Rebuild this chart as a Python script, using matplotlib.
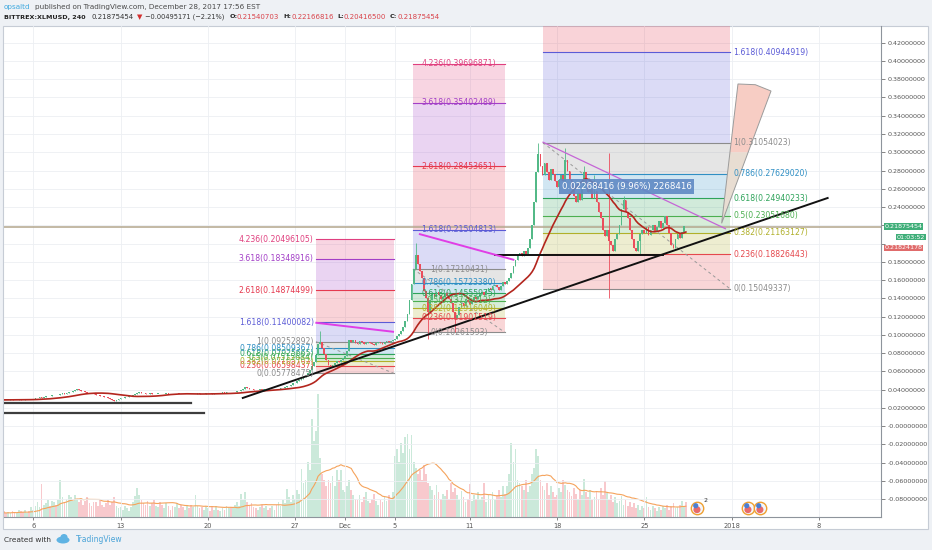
import numpy as np
import pandas as pd
import matplotlib
matplotlib.use("Agg")
import matplotlib.pyplot as plt
from matplotlib.patches import Rectangle, Polygon, Ellipse
from matplotlib.transforms import blended_transform_factory

W, H = 932, 550

# 4h closes, one row per day, first row = Nov 3 (day -3, day 0 = Nov 6)
closes = [
    0.0285, 0.0288, 0.0286, 0.0290, 0.0288, 0.0287,
    0.0289, 0.0292, 0.0290, 0.0288, 0.0291, 0.0293,
    0.0291, 0.0290, 0.0294, 0.0296, 0.0293, 0.0295,
    0.0298, 0.0303, 0.0310, 0.0318, 0.0312, 0.0320,
    0.0325, 0.0331, 0.0328, 0.0336, 0.0342, 0.0338,
    0.0345, 0.0352, 0.0360, 0.0356, 0.0366, 0.0372,
    0.0378, 0.0385, 0.0396, 0.0404, 0.0398, 0.0390,
    0.0382, 0.0375, 0.0368, 0.0362, 0.0358, 0.0350,
    0.0345, 0.0338, 0.0332, 0.0326, 0.0320, 0.0315,
    0.0308, 0.0296, 0.0285, 0.0280, 0.0289, 0.0298,
    0.0305, 0.0312, 0.0318, 0.0322, 0.0328, 0.0331,
    0.0336, 0.0348, 0.0362, 0.0370, 0.0366, 0.0359,
    0.0355, 0.0352, 0.0358, 0.0354, 0.0350, 0.0353,
    0.0356, 0.0352, 0.0349, 0.0353, 0.0357, 0.0354,
    0.0351, 0.0348, 0.0352, 0.0356, 0.0353, 0.0349,
    0.0347, 0.0350, 0.0354, 0.0351, 0.0348, 0.0352,
    0.0355, 0.0358, 0.0354, 0.0351, 0.0355, 0.0358,
    0.0362, 0.0359, 0.0356, 0.0360, 0.0364, 0.0361,
    0.0365, 0.0368, 0.0364, 0.0370, 0.0373, 0.0369,
    0.0372, 0.0376, 0.0380, 0.0386, 0.0395, 0.0410,
    0.0425, 0.0418, 0.0412, 0.0405, 0.0400, 0.0396,
    0.0398, 0.0402, 0.0399, 0.0404, 0.0408, 0.0405,
    0.0402, 0.0406, 0.0410, 0.0407, 0.0412, 0.0416,
    0.0420, 0.0428, 0.0436, 0.0442, 0.0455, 0.0468,
    0.0478, 0.0490, 0.0505, 0.0520, 0.0538, 0.0552,
    0.0578, 0.0610, 0.0655, 0.0705, 0.0780, 0.0905,
    0.0925, 0.0860, 0.0790, 0.0720, 0.0670, 0.0655,
    0.0665, 0.0690, 0.0712, 0.0705, 0.0728, 0.0745,
    0.0770, 0.0820, 0.0945, 0.0925, 0.0940, 0.0912,
    0.0905, 0.0930, 0.0918, 0.0895, 0.0910, 0.0925,
    0.0915, 0.0900, 0.0892, 0.0908, 0.0920, 0.0912,
    0.0905, 0.0918, 0.0930, 0.0922, 0.0935, 0.0948,
    0.0960, 0.0985, 0.1010, 0.1045, 0.1090, 0.1150,
    0.1230, 0.1380, 0.1560, 0.1720, 0.1880, 0.1780,
    0.1700, 0.1620, 0.1480, 0.1400, 0.1250, 0.1380,
    0.1450, 0.1420, 0.1470, 0.1440, 0.1390, 0.1420,
    0.1460, 0.1430, 0.1390, 0.1350, 0.1250, 0.1180,
    0.1220, 0.1300, 0.1350, 0.1320, 0.1380, 0.1360,
    0.1340, 0.1380, 0.1410, 0.1395, 0.1430, 0.1450,
    0.1470, 0.1440, 0.1480, 0.1510, 0.1490, 0.1530,
    0.1550, 0.1520, 0.1490, 0.1540, 0.1580, 0.1560,
    0.1590, 0.1620, 0.1680, 0.1750, 0.1820, 0.1870,
    0.1900, 0.1860, 0.1920, 0.1890, 0.1950, 0.2050,
    0.2200, 0.2450, 0.2780, 0.2980, 0.2850, 0.2750,
    0.2880, 0.2780, 0.2700, 0.2820, 0.2760, 0.2680,
    0.2620, 0.2700, 0.2750, 0.2680, 0.2920, 0.2800,
    0.2700, 0.2600, 0.2520, 0.2450, 0.2550, 0.2480,
    0.2600, 0.2780, 0.2650, 0.2560, 0.2600, 0.2500,
    0.2580, 0.2450, 0.2350, 0.2280, 0.2150, 0.2080,
    0.2150, 0.2030, 0.1980, 0.1920, 0.2050, 0.2100,
    0.2200, 0.2380, 0.2480, 0.2350, 0.2280, 0.2150,
    0.2050, 0.1950, 0.1920, 0.2030, 0.2100, 0.2150,
    0.2120, 0.2180, 0.2090, 0.2150, 0.2200, 0.2140,
    0.2180, 0.2250, 0.2170, 0.2220, 0.2300, 0.2200,
    0.2120, 0.1980, 0.1950, 0.2050, 0.2100, 0.2060,
    0.2130, 0.2190, 0.21875454,
]

volumes = [
    3, 4, 2, 3, 5, 3,
    4, 3, 5, 4, 3, 6,
    5, 4, 6, 3, 5, 8,
    6, 9, 12, 8, 27, 10,
    11, 14, 9, 13, 12, 10,
    14, 30, 16, 12, 15, 18,
    16, 13, 18, 15, 12, 14,
    10, 13, 16, 11, 9, 12,
    12, 9, 14, 10, 8, 11,
    14, 10, 12, 16, 9, 7,
    8, 6, 9, 7, 5, 8,
    12, 17, 24, 18, 14, 11,
    10, 13, 9, 11, 14, 9,
    8, 12, 10, 7, 11, 9,
    6, 9, 8, 11, 7, 10,
    8, 6, 9, 7, 10, 8,
    18, 9, 7, 8, 6, 9,
    7, 5, 8, 6, 9, 6,
    5, 7, 6, 9, 7, 8,
    8, 10, 12, 9, 19, 14,
    20, 12, 9, 11, 8, 7,
    6, 8, 10, 7, 9, 6,
    7, 9, 6, 10, 12, 9,
    14, 11, 23, 16, 12, 18,
    15, 22, 19, 39, 28, 30,
    45, 38, 80, 62, 70, 100,
    48, 35, 30, 25, 30, 28,
    33, 25, 38, 30, 38, 22,
    20, 25, 30, 22, 18, 15,
    14, 18, 12, 16, 20, 13,
    11, 15, 19, 13, 10, 14,
    12, 16, 13, 18, 14, 20,
    50, 55, 45, 60, 52, 65,
    68, 55, 67, 45, 40, 35,
    38, 30, 42, 35, 28, 25,
    22, 18, 26, 20, 15, 19,
    17, 22, 15, 28, 20, 24,
    18, 14, 21, 16, 12, 15,
    27, 13, 18, 15, 20, 14,
    16, 28, 12, 18, 15, 20,
    14, 18, 22, 16, 25, 19,
    25, 35, 60, 45, 55, 30,
    28, 25, 22, 30, 20, 25,
    35, 40, 55, 50, 30, 25,
    22, 28, 18, 25, 20, 16,
    18, 24, 20, 30, 26, 22,
    20, 17, 24, 19, 15, 22,
    18, 31, 20, 16, 22, 14,
    16, 20, 15, 24, 18, 29,
    20, 14, 18, 12, 16, 11,
    13, 17, 10, 14, 9, 12,
    8, 11, 7, 10, 6, 9,
    7, 16, 8, 6, 9, 7,
    5, 8, 6, 9, 7, 10,
    6, 9, 11, 7, 8, 10,
    13, 9, 12,
]

# notable wicks (bar index -> price)
wick_highs = {156: 0.1045, 202: 0.2010, 261: 0.3105, 274: 0.3050,
              283: 0.2850, 288: 0.2750, 295: 0.2990, 302: 0.2520}
wick_lows = {208: 0.0950, 221: 0.1026, 295: 0.1400, 310: 0.1880}

first_day = -3
days = first_day + np.arange(len(closes)) / 6.0

# x tick positions in days after Nov 6
tick_days = [0, 7, 14, 21, 25, 29, 35, 42, 49, 56, 63]
tick_labels = ["6", "13", "20", "27", "Dec", "5", "11", "18", "25", "2018", "8"]
price_ticks = [-0.08, -0.06, -0.04, -0.02, 0.0, 0.02, 0.04, 0.06, 0.08, 0.10, 0.12,
               0.14, 0.16, 0.18, 0.20, 0.22, 0.24, 0.26, 0.28, 0.30, 0.32, 0.34,
               0.36, 0.38, 0.40, 0.42]
hidden_ticks = [0.20, 0.22]  # covered by the price tags

fib_levels = [0, 0.236, 0.382, 0.5, 0.618, 0.786, 1, 1.618, 2.618, 3.618, 4.236]
fib_colors = {0: "#8c8c8c", 0.236: "#e5484d", 0.382: "#b0b02a", 0.5: "#4caf50",
              0.618: "#2ea35a", 0.786: "#2f8fc4", 1: "#8c8c8c", 1.618: "#5b5bd6",
              2.618: "#e5394f", 3.618: "#a33fc7", 4.236: "#e0407f"}
# (low, high, start day, end day, label placement, top level)
fibs = [
    (0.05778475, 0.09252892, 22.67, 28.92, "left", 4.236),
    (0.10261593, 0.17210431, 30.45, 37.83, "center", 4.236),
    (0.15049337, 0.31054023, 40.87, 55.87, "right", 2.618),
]

main_trend = [(16.8, 0.0309), (63.7, 0.2499)]
support_188 = [(37.0, 0.1880), (50.5, 0.1880)]
base_lines = [([-2.35, 12.65], 0.0257), ([-2.35, 13.65], 0.0147)]
tan_line = 0.2181
magenta_lines = [[(22.7, 0.1132), (28.85, 0.1034)],
                 [(31.0, 0.2103), (38.5, 0.1823)]]
violet_line = [(40.88, 0.3110), (55.5, 0.2163)]
fan = [(55.2, 0.2222), (56.51, 0.3748), (57.9, 0.3740), (59.16, 0.3671)]

YLIM = (-0.0995, 0.4383)

opens = [closes[0]] + closes[:-1]
highs = [max(o, c) for o, c in zip(opens, closes)]
lows = [min(o, c) for o, c in zip(opens, closes)]
for i, v in wick_highs.items():
    highs[i] = v
for i, v in wick_lows.items():
    lows[i] = v

df = pd.DataFrame({"day": days, "open": opens, "high": highs, "low": lows,
                   "close": closes, "volume": volumes})
df["ma"] = df["close"].rolling(25, min_periods=1).mean()
df["vol_ma"] = df["volume"].rolling(20, min_periods=1).mean()
up = df["close"] >= df["open"]

GREEN, RED = "#53b987", "#eb4d5c"
plt.rcParams["font.family"] = "DejaVu Sans"

fig = plt.figure(figsize=(W / 100, H / 100), dpi=100, facecolor="#eef1f5")
fig.patches.append(Rectangle((3 / W, 1 - 529 / H), 925 / W, 503 / H,
                             transform=fig.transFigure, facecolor="white",
                             edgecolor="#c6ccd5", lw=0.8, zorder=-5))

ax = fig.add_axes([4 / W, 1 - 517 / H, 877 / W, 491 / H])
vol_ax = ax.twinx()
vol_ax.set_zorder(0)
ax.set_zorder(1)
ax.patch.set_visible(False)

ax.set_xlim(-2.35, 67.98)
ax.set_ylim(*YLIM)
vol_ax.set_ylim(0, 400)
vol_ax.set_axis_off()

# volume
vcol = np.where(up, GREEN, RED)
vol_ax.bar(df["day"], df["volume"], width=0.14, color=vcol, alpha=0.3, lw=0)
vol_ax.plot(df["day"], df["vol_ma"], color="#f5a35c", lw=0.8)

# grid / axes
ax.set_xticks(tick_days)
ax.set_xticklabels(tick_labels)
ax.set_yticks(price_ticks)
ylabels = []
for t in price_ticks:
    if any(abs(t - h) < 1e-9 for h in hidden_ticks):
        ylabels.append("")
    elif t == 0:
        ylabels.append("-0.00000000")
    else:
        ylabels.append(f"{t:.8f}")
ax.set_yticklabels(ylabels)
ax.yaxis.tick_right()
ax.grid(True, color="#eceff3", lw=0.6)
ax.set_axisbelow(True)
ax.tick_params(axis="y", labelsize=4.6, colors="#555555", length=3, width=0.5, pad=1.5)
ax.tick_params(axis="x", labelsize=4.8, colors="#555555", length=2, width=0.5, pad=2)
for s in ("top", "left"):
    ax.spines[s].set_visible(False)
for s in ("right", "bottom"):
    ax.spines[s].set_color("#8e949c")
    ax.spines[s].set_linewidth(0.8)

# fib retracements
for lo, hi, x0, x1, mode, top in fibs:
    levels = [r for r in fib_levels if r <= top]
    vals = [lo + r * (hi - lo) for r in levels]
    for k in range(1, len(levels)):
        ax.fill_between([x0, x1], vals[k - 1], vals[k], color=fib_colors[levels[k]],
                        alpha=0.22, lw=0, zorder=0.6)
    for r, v in zip(levels, vals):
        ax.plot([x0, x1], [v, v], color=fib_colors[r], lw=0.8, zorder=0.7)
        if v > YLIM[1] - 0.005:
            continue
        lab = f"{r:g}({v:.8f})"
        if mode == "left":
            tx, ha = x0 - 0.18, "right"
        elif mode == "center":
            tx, ha = (x0 + x1) / 2, "center"
        else:
            tx, ha = x1 + 0.25, "left"
        ax.text(tx, v, lab, ha=ha, va="center", fontsize=5.6,
                color=fib_colors[r], clip_on=True, zorder=6)
    ax.plot([x0, x1], [hi, lo], color="#9a9a9a", lw=0.7, ls=(0, (3, 3)), zorder=0.8)

# candles
body_bottom = np.minimum(df["open"], df["close"])
body_h = np.maximum(np.abs(df["close"] - df["open"]), 0.0005)
ccol = np.where(up, GREEN, RED)
ax.vlines(df["day"], df["low"], df["high"], colors=ccol, lw=0.6, zorder=3)
ax.bar(df["day"], body_h, bottom=body_bottom, width=0.14, color=ccol, lw=0, zorder=3)

# moving average
ax.plot(df["day"], df["ma"], color="#b3261e", lw=1.2, zorder=4)

# drawings
ax.axhline(tan_line, color="#b3a68c", lw=1.1, zorder=2)
(tx0, ty0), (tx1, ty1) = main_trend
ax.plot([tx0, tx1], [ty0, ty1], color="#111111", lw=1.4, zorder=5)
ax.plot([p[0] for p in support_188], [p[1] for p in support_188], color="#111111", lw=1.4, zorder=5)
for xs, yv in base_lines:
    ax.plot(xs, [yv, yv], color="#3d3d3d", lw=1.6, zorder=5)
for seg in magenta_lines:
    ax.plot([p[0] for p in seg], [p[1] for p in seg], color="#e03ee6", lw=1.4, zorder=5)
ax.plot([p[0] for p in violet_line], [p[1] for p in violet_line], color="#c565d6", lw=0.9, zorder=5)

# projection fan, two tones
apex, ltop, mtop, rtop = fan
split = 0.30


def edge_at(a, b, p):
    t = (p - a[1]) / (b[1] - a[1])
    return (a[0] + t * (b[0] - a[0]), p)


lm = edge_at(apex, ltop, split)
rm = edge_at(apex, rtop, split)
ax.add_patch(Polygon([apex, lm, rm], closed=True, facecolor="#e8ddd2", edgecolor="none", zorder=2))
ax.add_patch(Polygon([lm, ltop, mtop, rtop, rm], closed=True, facecolor="#f7cdc4", edgecolor="none", zorder=2))
ax.add_patch(Polygon(fan, closed=True, facecolor="none", edgecolor="#9b9b9b", lw=0.7, zorder=2))

# measure tooltip
ax.text(47.6, 0.2625, "0.02268416 (9.96%) 2268416", ha="center", va="center",
        fontsize=6.2, color="white", zorder=7,
        bbox=dict(boxstyle="square,pad=0.3", fc="#5f89c4", ec="none", alpha=0.9))

# event icons
bt = blended_transform_factory(ax.transData, ax.transAxes)
for d in (53.22, 57.31, 58.27):
    ax.scatter([d], [0.018], s=80, transform=bt, facecolor="#f3f6fb",
               edgecolor="#f0a030", lw=1.0, zorder=8, clip_on=False)
    ax.scatter([d], [0.015], s=26, transform=bt, marker="o", facecolor="#e86a6a",
               edgecolor="none", zorder=8, clip_on=False)
    ax.scatter([d - 0.1], [0.023], s=14, transform=bt, marker="o", facecolor="#4d7fd0",
               edgecolor="none", zorder=9, clip_on=False)
ax.text(53.75, 0.03, "2", transform=bt, fontsize=4.5, color="#333", zorder=9)

# right-axis tags
rt = blended_transform_factory(ax.transAxes, ax.transData)
last = closes[-1]
tag = dict(boxstyle="square,pad=0.12", ec="none")
ax.text(1.004, last, f"{last:.8f}", transform=rt, ha="left", va="center", fontsize=4.6,
        color="white", clip_on=False, bbox=dict(fc="#3fae79", **tag))
ax.text(1.018, last - 0.0118, "01:03:52", transform=rt, ha="left", va="center", fontsize=4.6,
        color="white", clip_on=False, bbox=dict(fc="#3fae79", **tag))
ax.text(1.004, last - 0.0236, "0.21824178", transform=rt, ha="left", va="center", fontsize=4.6,
        color="white", clip_on=False, bbox=dict(fc="#e06b6b", **tag))


# header
def fx(x):
    return x / W


def fy(y):
    return 1 - y / H


fig.text(fx(4), fy(7), "opsaltd", fontsize=5.2, color="#3fa9df", va="center")
fig.text(fx(35), fy(7), "published on TradingView.com, December 28, 2017 17:56 EST",
         fontsize=5.2, color="#4a4a4a", va="center")
header = [
    (4, "BITTREX:XLMUSD, 240", "#222222", "bold", 4.6),
    (91, "0.21875454", "#333333", "normal", 5.0),
    (137, "\u25bc", "#d32f2f", "normal", 5.0),
    (145, "\u22120.00495171 (\u22122.21%)", "#333333", "normal", 4.8),
    (230, "O:", "#222222", "bold", 4.6),
    (237, "0.21540703", "#d9434a", "normal", 5.0),
    (283, "H:", "#222222", "bold", 4.6),
    (292, "0.22166816", "#d9434a", "normal", 5.0),
    (337, "L:", "#222222", "bold", 4.6),
    (344, "0.20416500", "#d9434a", "normal", 5.0),
    (390, "C:", "#222222", "bold", 4.6),
    (397, "0.21875454", "#d9434a", "normal", 5.0),
]
for x, s, c, w, fs in header:
    fig.text(fx(x), fy(17), s, fontsize=fs, color=c, fontweight=w, va="center")

# footer
fig.text(fx(4), fy(540), "Created with", fontsize=5.3, color="#333333", va="center")
fig.patches.append(Ellipse((fx(63), fy(540)), 13 / W, 7 / H, transform=fig.transFigure,
                           facecolor="#5fb3e3", edgecolor="none"))
fig.patches.append(Ellipse((fx(64), fy(537)), 7 / W, 6 / H, transform=fig.transFigure,
                           facecolor="#5fb3e3", edgecolor="none"))
fig.text(fx(76), fy(540), "TradingView", fontsize=5.5, color="#4ba4d8", va="center")

fig.savefig("out.png", dpi=100, facecolor=fig.get_facecolor())
